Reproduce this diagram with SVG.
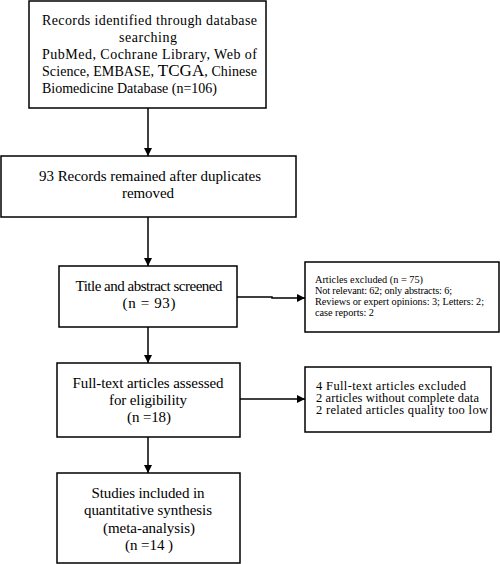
<svg xmlns="http://www.w3.org/2000/svg" width="500" height="564" viewBox="0 0 500 564">
<defs>
<marker id="ah" viewBox="0 0 10 10" refX="10" refY="5" markerWidth="8" markerHeight="8" markerUnits="userSpaceOnUse" orient="auto">
<path d="M0,0 L10,5 L0,10 z" fill="#000"/>
</marker>
<style>
.box{fill:#fff;stroke:#000;stroke-width:1.5}
.t{font-family:"Liberation Serif","Times New Roman",serif;font-size:15px;fill:#000}
.k{font-size:14px}
.c{text-anchor:middle}
.s{font-family:"Liberation Serif","Times New Roman",serif;font-size:10.3px;fill:#000}
.m{font-family:"Liberation Serif","Times New Roman",serif;font-size:12.5px;fill:#000}
.ln{stroke:#000;stroke-width:1.5;fill:none;marker-end:url(#ah)}
</style>
</defs>
<rect width="500" height="564" fill="#fff"/>
<g id="connectors">
<line class="ln" x1="148" y1="108" x2="148" y2="156"/>
<line class="ln" x1="148" y1="217" x2="148" y2="266"/>
<polyline class="ln" points="237,297 272,297 272,298 305,298"/>
<line class="ln" x1="148" y1="327" x2="148" y2="363"/>
<line class="ln" x1="240" y1="399" x2="305" y2="399"/>
<line class="ln" x1="148" y1="437" x2="148" y2="473"/>
</g>
<g id="n1">
<rect class="box" x="29" y="1" width="237" height="107"/>
<text class="t k" x="42" y="25" textLength="215" lengthAdjust="spacing">Records identified through database</text>
<text class="t k c" x="148" y="42" textLength="58" lengthAdjust="spacing">searching</text>
<text class="t k" x="42" y="59" textLength="215" lengthAdjust="spacing">PubMed, Cochrane Library, Web of</text>
<text class="t k" x="42" y="76" textLength="215" lengthAdjust="spacing">Science, EMBASE, <tspan font-size="17">TCGA</tspan>, Chinese</text>
<text class="t k" x="42" y="93" textLength="175" lengthAdjust="spacing">Biomedicine Database (n=106)</text>
</g>
<g id="n2">
<rect class="box" x="1" y="156" width="295" height="61"/>
<text class="t c" x="150" y="181" textLength="222" lengthAdjust="spacing">93 Records remained after duplicates</text>
<text class="t c" x="148" y="198" textLength="52" lengthAdjust="spacing">removed</text>
</g>
<g id="n3">
<rect class="box" x="59" y="266" width="178" height="61"/>
<text class="t c" x="149" y="291" textLength="147" lengthAdjust="spacing">Title and abstract screened</text>
<text class="t c" x="149" y="308" textLength="53" lengthAdjust="spacing">(n = 93)</text>
</g>
<g id="n4">
<rect class="box" x="305" y="262" width="194" height="70"/>
<text class="s" x="315" y="283" textLength="108" lengthAdjust="spacing">Articles excluded (n = 75)</text>
<text class="s" x="315" y="294" textLength="137" lengthAdjust="spacing">Not relevant: 62; only abstracts: 6;</text>
<text class="s" x="315" y="305" textLength="169" lengthAdjust="spacing">Reviews or expert opinions: 3; Letters: 2;</text>
<text class="s" x="315" y="316" textLength="59" lengthAdjust="spacing">case reports: 2</text>
</g>
<g id="n5">
<rect class="box" x="57" y="363" width="183" height="74"/>
<text class="t c" x="148" y="388" textLength="151" lengthAdjust="spacing">Full-text articles assessed</text>
<text class="t c" x="148" y="405" textLength="78" lengthAdjust="spacing">for eligibility</text>
<text class="t c" x="149" y="422" textLength="44" lengthAdjust="spacing">(n =18)</text>
</g>
<g id="n6">
<rect class="box" x="305" y="367" width="186" height="65"/>
<text class="m" x="316" y="389.5" textLength="150" lengthAdjust="spacing">4 Full-text articles excluded</text>
<text class="m" x="316" y="401.5" textLength="163" lengthAdjust="spacing">2 articles without complete data</text>
<text class="m" x="316" y="413.5" textLength="172" lengthAdjust="spacing">2 related articles quality too low</text>
</g>
<g id="n7">
<rect class="box" x="57" y="473" width="183" height="90"/>
<text class="t c" x="148" y="498" textLength="113" lengthAdjust="spacing">Studies included in</text>
<text class="t c" x="148" y="515" textLength="128" lengthAdjust="spacing">quantitative synthesis</text>
<text class="t c" x="149" y="533" textLength="92" lengthAdjust="spacing">(meta-analysis)</text>
<text class="t c" x="149" y="550" textLength="48" lengthAdjust="spacing">(n =14 )</text>
</g>
</svg>
